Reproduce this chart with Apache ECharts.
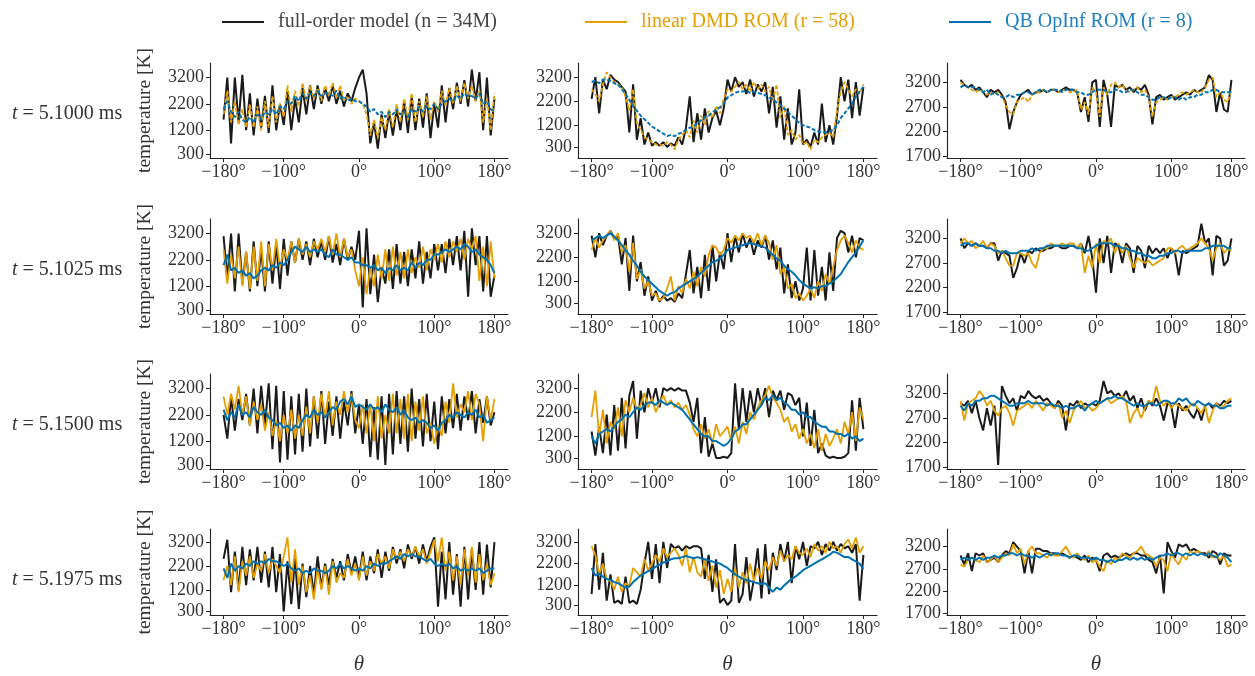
<!DOCTYPE html>
<html>
<head>
<meta charset="utf-8">
<script src="https://cdn.jsdelivr.net/npm/echarts@6/dist/echarts.min.js"></script>
<style>
  html, body { margin: 0; padding: 0; background: #ffffff; }
  #chart { width: 1255px; height: 676px; }
</style>
</head>
<body>
<div id="chart"></div>
<script>
// Sample angles (degrees) shared by every trace
const thetaDeg = [-180,-175,-170,-165,-160,-155,-150,-145,-140,-135,-130,-125,-120,-115,-110,-105,-100,-95,-90,-85,-80,-75,-70,-65,-60,-55,-50,-45,-40,-35,-30,-25,-20,-15,-10,-5,
  0,5,10,15,20,25,30,35,40,45,50,55,60,65,70,75,80,85,90,95,100,105,110,115,120,125,130,135,140,145,150,155,160,165,170,175,180];

// Time instants (ms), one per row
const timesMs = ['5.1000', '5.1025', '5.1500', '5.1975'];

// Tick values
const thetaTicks = [-180, -100, 0, 100, 180];
const tempTicksWide = [300, 1200, 2200, 3200];
const tempTicksNarrow = [1700, 2200, 2700, 3200];

// ---- t = 5.1000 ms ----
const fom_r1_c1 = [1600,3200,700,3200,1500,3300,1200,2600,1000,2400,1300,2500,1100,2900,1200,2200,1400,2700,1200,2400,1500,2800,1800,2900,2000,2900,2200,2800,2300,2900,2200,2700,2100,2600,2300,2800,
  3200,3500,2600,700,1500,500,1800,900,1900,1000,2000,1200,2300,1100,2500,1200,2400,1300,2600,900,2200,1300,2900,1500,2800,2000,3000,2200,3100,2100,3500,2300,3400,1200,3200,1000,2400];
const dmd_r1_c1 = [1800,2700,1500,2300,1400,2000,1300,2200,1300,2100,1200,2300,1300,2500,1500,2200,1700,2900,1900,2700,2100,3000,2300,2900,2400,2800,2300,2900,2500,3000,2400,2900,2300,2500,2200,2400,
  2300,2200,1800,1000,1600,900,1700,1200,2000,1300,2200,1500,2400,1600,2600,1500,2300,1700,2500,1600,2300,1900,2700,2100,2800,2200,2900,2300,3000,2400,2900,2300,2700,1500,2400,1200,2600];
const opinf_r1_c1 = [2000,2300,1900,1700,1900,1600,1500,1700,1500,1800,1600,1900,1800,2000,1800,2100,2000,2300,2200,2500,2300,2600,2400,2600,2500,2700,2500,2600,2600,2500,2700,2400,2500,2300,2400,2300,
  2300,2200,2100,1900,2000,1800,1900,1700,1900,1800,2000,1800,1900,1700,2000,1900,2100,1900,2100,2000,2200,2000,2200,2300,2400,2300,2500,2400,2600,2500,2500,2400,2600,2200,2300,2000,1900];

const fom_r1_c2 = [2300,3200,1700,3100,2700,3300,3100,3000,2800,2600,900,2900,600,1500,400,900,350,500,350,500,300,450,350,700,400,1100,2400,500,1700,600,1900,900,1500,1800,1200,1900,
  3100,2600,3200,2800,3000,2500,3100,2400,2900,2600,3000,1700,2800,1100,2400,600,1900,400,900,2700,400,600,300,900,400,2100,500,1200,400,1600,3200,2200,3100,1500,3000,1600,2800];
const dmd_r1_c2 = [2700,2500,2200,2900,3400,3200,3000,2900,2800,2400,1800,2700,1300,1000,700,600,500,400,400,350,500,400,200,600,800,1000,700,1400,900,1600,1200,1800,1500,2000,1700,2300,
  2700,2600,2800,3000,2700,2900,2600,3000,2700,2900,2600,2800,2200,2900,1500,2000,800,1000,600,800,400,500,200,600,500,700,800,900,700,1800,2600,3000,2700,2400,2700,2500,2900];
const opinf_r1_c2 = [3000,3050,2950,3100,3100,3050,2950,2900,2700,2500,2250,2000,1800,1600,1450,1300,1150,1050,950,850,750,800,750,850,900,1000,1100,1150,1300,1400,1550,1600,1750,1850,1950,2100,
  2350,2450,2550,2600,2600,2650,2550,2600,2550,2500,2450,2350,2300,2150,2050,1900,1750,1600,1450,1300,1200,1150,1100,1000,950,900,900,950,1000,1200,1500,1700,1900,2100,2400,2600,2800];

const fom_r1_c3 = [3250,3150,3100,3150,3050,3100,3000,2900,3050,3000,3050,2950,2800,2250,2600,2800,2950,3000,3050,2950,3000,3000,3050,3000,3050,3050,3000,3050,3100,3050,3050,3000,2600,2900,2400,3200,
  3250,2300,3250,2950,2300,3150,3100,3150,3050,3100,3000,3100,3050,3150,2950,2350,2900,2950,2850,2900,2950,2850,2900,2950,3000,2950,3050,3000,3050,3100,3350,3250,2600,3000,2650,2600,3250];
const dmd_r1_c3 = [3200,3150,3100,3050,3000,3050,3000,2950,3000,2950,3000,2900,2750,2600,2550,2800,2850,2900,2800,2950,3000,3000,3050,3000,3050,3050,3000,3050,3050,3000,3000,3050,2650,2800,2550,3100,
  3000,2500,3100,2950,3150,3200,3100,3150,3050,3000,3050,3100,3000,3050,2900,2500,2800,2850,2900,2850,2900,2900,2950,3000,2950,3000,3050,3000,3000,3100,3250,3300,2900,3000,2850,2800,3050];
const opinf_r1_c3 = [3100,3150,3100,3100,3100,3050,3000,3050,2950,3000,2950,2900,2900,2950,2900,2950,2950,3000,3000,2950,3000,3050,3050,3000,3050,3050,3050,3000,3050,3050,3050,3000,3000,2950,2950,3000,
  3050,3050,3050,3000,3000,3050,3050,3000,3000,3050,3050,3000,2950,2950,2900,2850,2850,2900,2900,2850,2900,2900,2850,2900,2850,2900,2900,2950,2950,3000,3000,3050,3050,3000,3000,3000,3000];

// ---- t = 5.1025 ms ----
const fom_r2_c1 = [3100,1500,3200,1000,3200,1300,2500,1000,2900,1200,2600,1000,2900,1300,2800,1100,3000,1600,2900,2100,3000,2200,2900,2000,3000,2300,2900,2200,3100,2100,2800,2000,3000,2200,2700,2200,
  3300,400,3400,900,2400,600,1900,1300,2600,1100,2800,1300,2500,1200,2600,1500,2900,1300,2500,1500,2800,1800,2800,1700,3000,2000,3100,1800,3300,800,3400,2000,3100,1000,3100,800,1600];
const dmd_r2_c1 = [2600,1300,2400,1500,2700,1200,2500,1100,2700,1400,2900,1200,2800,1800,3000,1900,2600,2200,2900,2100,3000,2400,2800,2300,2900,2600,3000,2500,3100,2400,3200,2300,3000,2300,2600,1800,
  1200,2300,900,1900,1200,2400,1500,2600,1400,2700,1600,2500,1500,2600,1700,2300,1900,2700,1800,2600,2200,2800,2100,2900,2300,2900,2500,3000,2200,3000,2600,3100,1400,2700,1200,2900,1500];
const opinf_r2_c1 = [2000,2400,1800,1900,1700,1800,1600,1700,1500,1600,1800,1900,1800,2000,1900,2100,2000,2200,2500,2700,2600,2500,2700,2500,2600,2500,2600,2400,2300,2600,2400,2400,2300,2200,2300,2100,
  2100,2000,2000,1900,2000,1800,1900,1700,1900,1800,2000,1800,1900,1800,2100,1900,2100,2000,2200,2200,2400,2400,2500,2600,2500,2600,2700,2600,2800,2700,2500,2600,2400,2300,2200,2000,1700];

const fom_r2_c2 = [3100,2200,3200,2700,3100,3300,3000,3100,1900,3000,800,3100,1200,2000,600,1400,400,800,350,600,400,500,350,700,500,1500,2500,700,1800,500,2300,800,2700,1200,2400,1700,
  3200,2000,3100,2400,3200,2600,3000,2300,2900,2600,3100,2100,2900,1700,2600,700,1900,500,1200,400,900,2600,400,2500,600,1800,400,2400,800,3000,3300,3200,2400,3100,2200,3000,2900];
const dmd_r2_c2 = [2500,3000,2600,2900,3100,3300,2900,3200,2400,2700,1600,2800,1300,1700,900,1200,600,700,400,500,900,1400,400,1000,700,1300,900,1600,1000,1800,1400,2300,2700,2600,2300,2500,
  3000,2800,3100,2900,3200,3000,3100,2800,3200,2700,3100,2800,2100,2700,1500,1800,900,1100,500,700,400,600,900,500,1200,800,1500,1100,1800,2500,2900,3100,2800,2400,2900,2600,2500];
const opinf_r2_c2 = [2900,3000,3100,3000,3100,3200,3050,2900,2700,2500,2300,2050,1850,1600,1400,1250,1100,950,800,700,600,700,750,900,1000,1100,1200,1300,1400,1550,1700,1850,2000,2050,2150,2300,
  2500,2550,2600,2650,2700,2750,2800,2750,2700,2650,2600,2450,2300,2150,2050,1850,1700,1600,1450,1250,1100,1000,900,950,900,1000,1000,1100,1200,1350,1500,1750,2000,2200,2400,2650,2900];

const fom_r2_c3 = [3200,3000,3100,3050,3100,3050,3050,3000,3100,3100,2750,2950,2900,2850,2400,2600,2900,2700,2950,2900,3000,2950,2950,3000,3000,3050,3050,3000,3000,3050,3050,3000,3100,2900,3250,2800,
  2100,3200,2700,3250,2500,3100,3050,2700,3100,3000,2500,3050,2950,2600,3050,2900,3000,2900,3000,2800,3000,2900,2450,2950,2900,2950,3000,3050,3500,3100,3200,2450,3250,3200,2650,2750,3200];
const dmd_r2_c3 = [3100,3200,3100,3150,3000,3050,3150,3000,3100,3050,2900,2950,2800,2650,2650,2900,2900,2850,2900,2700,2600,2900,3000,3000,3100,3050,3050,3100,3050,3100,3100,3000,3100,2500,2850,2600,
  3100,2700,3150,3100,3200,2900,3100,2900,3050,2800,2600,2800,2750,2700,2750,2650,2700,2750,2800,3000,3000,2900,3000,3050,2950,3000,3050,3100,3200,3100,3000,2750,3000,3100,2900,3000,2950];
const opinf_r2_c3 = [3050,3100,3100,3050,3100,3050,3050,3000,3000,2950,2950,2900,2950,2900,2900,2900,2950,2950,2950,3000,2950,3000,3000,3050,3050,3050,3050,3050,3050,3050,3050,3000,3000,2950,2950,3000,
  3050,3100,3100,3100,3100,3050,3050,3000,3000,2950,2950,2900,2900,2850,2850,2800,2800,2850,2850,2900,2900,2950,2950,2900,2950,2950,2950,2950,2950,3000,3000,3050,3050,3050,3050,3000,3000];

// ---- t = 5.1500 ms ----
const fom_r3_c1 = [2200,1300,2900,1600,2800,2000,3000,1800,3200,1500,3300,1800,3400,900,3300,400,3100,500,2900,700,3000,800,3200,1000,2900,1300,3100,1100,2700,1400,2900,1300,2700,1800,3100,1500,
  2600,1100,2800,600,2500,500,2900,300,3000,700,3100,1100,2900,800,3200,1300,2800,1000,3000,1200,2700,900,2900,1500,2800,1700,3000,1600,2900,2000,3100,1500,2800,1900,2900,1800,2300];
const dmd_r3_c1 = [2900,2200,3000,2400,3300,2200,2900,1800,2700,2000,2600,1600,2300,1400,2000,1200,2200,1500,2400,1300,2200,1400,2500,1500,2900,1900,3000,2100,3100,1800,2700,2200,3100,2300,3000,2000,
  1700,2600,1500,2600,1200,2900,1300,2200,1500,3000,1500,2800,1300,3000,1200,2700,1600,2900,1500,1900,1100,1800,1400,2700,1900,3400,2100,2600,2300,3100,2000,3000,2600,1200,2900,2000,2800];
const opinf_r3_c1 = [2400,2000,2300,2100,2600,2200,2300,2100,2500,2300,2200,2400,2100,2000,1800,1900,1700,1800,1600,1800,1700,2000,2200,2100,2400,2200,2300,2100,2300,2500,2400,2700,2800,2600,2900,2500,
  2600,2500,2400,2600,2400,2500,2300,2600,2400,2300,2500,2200,2400,2100,2000,2100,1900,2000,1900,1700,1800,1600,1900,2000,2200,2100,2300,2200,2100,2300,2200,2400,2100,2200,1900,2000,2100];

const fom_r3_c2 = [1400,400,1600,500,2100,400,2500,600,2800,700,2900,3500,1100,3100,2200,3200,2600,3200,2400,3200,3100,3200,3100,3200,3100,3100,2600,1800,2800,500,2000,350,900,300,300,350,
  300,500,3400,1500,3200,1800,3100,2200,3200,2500,3200,2000,3100,2700,3100,2300,3000,2900,2500,2800,1200,2600,800,2300,500,900,400,300,350,300,300,350,500,2700,600,2800,1500];
const dmd_r3_c2 = [2000,3100,1200,2300,900,1800,1500,2400,1200,2700,2200,2800,2300,2500,3000,2400,2800,2200,2600,2900,2500,2700,2400,2600,2300,2500,2100,1500,1200,1700,1100,1500,900,1700,1200,1400,
  1600,1000,1600,900,1800,1300,2200,1900,2400,2700,2900,3300,2800,2600,2300,1800,2000,1400,1700,1100,1500,900,1300,700,1500,600,1300,800,1100,1500,900,1800,1300,2200,1000,2400,1900];
const opinf_r3_c2 = [1200,900,1300,1400,1500,1400,1600,1800,1900,2100,2000,2200,2400,2300,2500,2600,2600,2500,2700,2600,2500,2600,2500,2400,2300,2100,1900,1700,1500,1300,1200,1200,1000,1000,900,800,
  900,1100,1400,1500,1700,1700,1900,2100,2300,2500,2800,2700,2900,2700,2800,2600,2500,2300,2300,2100,2200,2000,2000,1800,1700,1600,1600,1400,1400,1300,1300,1200,1300,1100,1200,1000,1100];

const fom_r3_c3 = [3000,2950,3050,2800,3050,2700,2450,2900,2550,2950,1750,3350,3150,3000,3100,2850,3150,3100,3250,3150,3100,3150,3050,3100,3000,2900,3050,2950,2450,3000,2950,3050,2900,3000,2950,3000,
  2950,3050,3450,3200,3250,3150,3200,3100,3250,3050,3150,2900,3100,2850,3050,2950,3100,2950,2650,3000,2950,2500,3000,2850,2950,2800,2700,2900,2650,2950,3000,2900,3000,2950,3050,3000,3050];
const dmd_r3_c3 = [3050,2650,3000,3050,3100,3250,3150,2950,3050,2850,2750,2900,2950,2800,2550,2850,2900,2950,3000,2900,3050,2950,2850,3000,2950,2900,3000,2700,2850,2600,2850,2950,3050,2900,2950,2850,
  2900,3000,3050,3100,3000,3050,3100,3150,3050,2600,2800,2900,2700,2900,3050,3000,3350,3050,2950,3050,2900,3000,2950,2900,2850,2950,3000,2900,2800,2950,2600,2850,3000,2900,2950,3050,3100];
const opinf_r3_c3 = [2950,2850,3000,2950,3050,3050,3100,3100,3150,3150,3100,3050,3000,2950,2950,3000,3000,3000,3050,3000,3000,3000,3000,2950,3000,2950,2950,2900,2950,2900,2900,2950,2950,2850,2950,3000,
  3050,3000,3050,3100,3100,3150,3100,3100,3050,3000,2950,3000,2950,2950,3000,3000,2950,3000,3050,3050,3000,3000,3100,3050,3100,3000,2950,3050,3000,2950,3000,2950,2950,2900,2900,2950,2950];

// ---- t = 5.1975 ms ----
const fom_r4_c1 = [2500,3300,1100,2800,1200,3000,1400,2900,1600,3000,1500,2800,1300,3000,1100,2700,300,2400,600,2500,400,2300,900,2200,1000,2600,1300,2300,1400,2500,1700,2400,1600,2700,1900,2600,
  1700,2800,1600,2600,1900,2900,1700,2800,2000,3000,2300,2900,2100,3100,2500,3000,2300,3100,2400,3000,3400,500,2800,800,3200,1000,2700,500,3000,800,2900,1200,3200,1000,3100,1300,3200];
const dmd_r4_c1 = [1600,2200,1400,2600,1100,2400,1800,2600,1700,2300,2000,2700,1900,2500,2200,1900,2600,3400,1500,2900,1400,2200,1100,1800,800,2100,1200,2200,1000,2400,1500,1900,1700,2500,1800,2300,
  1600,2600,1800,2400,2000,2700,2300,2600,2100,2900,2500,2800,2400,2900,2600,3000,2600,2900,2300,2800,3300,2400,3400,2000,2800,1600,2600,1400,2900,1800,3000,1500,2700,1600,2300,1400,1900];
const opinf_r4_c1 = [2100,1700,2300,2000,2200,2100,2300,2200,2400,2300,2400,2300,2500,2400,2400,2300,2200,2300,2100,2000,2100,1900,2000,1900,2100,2000,2000,1900,2000,2200,2100,2300,2100,2200,2100,2000,
  2100,2000,2200,2100,2300,2200,2300,2300,2400,2500,2600,2500,2700,2600,2700,2600,2600,2500,2400,2500,2300,2200,2300,2200,2300,2100,2200,2000,2100,2000,2100,2000,2100,1900,2000,2100,2100];

const fom_r4_c2 = [800,3100,1000,2700,500,1700,400,500,350,1600,400,500,350,1000,2200,3200,1500,3100,1300,3200,2000,3100,2900,3000,2800,3000,2900,3000,3000,2900,1500,2600,900,2400,400,600,
  300,500,3100,400,800,2500,500,1500,2900,600,3100,800,2700,1900,3100,2300,3200,1300,3000,2400,3200,2100,3000,2900,3200,2600,3100,2800,3200,2800,3100,2900,3000,2700,3100,500,2600];
const dmd_r4_c2 = [3000,2600,1700,2200,1500,1400,1000,1600,900,1300,1200,2000,1800,1600,2400,1900,2200,2600,2300,2900,2500,2700,2900,2600,2100,2900,1800,2500,1800,1600,2400,1400,2100,1100,1900,800,
  1500,900,2000,1100,1800,1300,2200,1400,2000,1500,2300,1900,2500,2100,2800,2300,2600,2400,3000,2700,2600,2900,2500,3100,2800,3000,2700,3200,2900,3000,2700,3100,3300,2900,3400,2700,3000];
const opinf_r4_c2 = [2000,1650,1750,1600,1500,1450,1350,1300,1200,1100,1150,1350,1500,1650,1750,1850,1950,2050,2150,2250,2300,2400,2450,2450,2500,2550,2500,2450,2500,2450,2400,2350,2300,2250,2200,2100,
  2000,1850,1700,1600,1500,1450,1400,1350,1300,1250,1300,1100,900,1100,1000,1200,1350,1500,1600,1750,1900,2000,2100,2200,2300,2400,2500,2600,2750,2700,2600,2500,2500,2400,2300,2200,1950];

const fom_r4_c3 = [3000,2800,3050,2650,3050,3000,3050,2850,2900,2950,2850,3000,3100,3050,3300,3200,3100,2600,3100,2600,3150,3150,3100,3100,3050,3050,3000,3050,3000,2950,3000,2950,2900,3000,2850,2950,
  2900,2650,3000,3050,2950,3000,2950,3000,3050,3000,3050,3050,3000,3000,2900,2850,2600,3000,2150,3300,3100,2950,3250,3200,3250,3100,3150,3100,3050,3050,2950,3100,3050,2800,3050,3000,3000];
const dmd_r4_c3 = [2800,2750,2900,2950,2900,2850,3000,2850,2900,3000,2850,2950,3050,3000,3250,3050,3150,2800,3100,3200,3050,3050,3000,2950,3050,3000,3000,3100,3200,3050,2950,3050,2950,2900,3000,2850,
  2900,2750,2650,2900,2800,2950,2900,3050,3000,2950,3050,3100,3200,3050,3000,2950,2750,2950,2900,2650,3050,2900,2800,3000,2900,3100,3050,3100,3050,3000,3100,2950,3000,2900,3000,2750,2800];
const opinf_r4_c3 = [2900,2950,2900,2950,2900,2950,2900,2950,2950,3000,2950,3000,3000,3050,3050,3000,3050,3000,3000,2950,3000,2950,3000,3050,3000,3050,3050,3000,3000,2950,3000,3000,2950,2950,2950,2900,
  2950,2900,2900,2850,2900,2850,2900,2900,2950,2900,2950,2900,2950,2900,2950,2900,2950,3000,3000,3050,3000,3050,3050,3000,3050,3000,3050,3000,3050,3000,3050,3000,2950,3050,3000,2950,2850];

// Traces arranged [row][column]
const fomRows = [
  [fom_r1_c1, fom_r1_c2, fom_r1_c3],
  [fom_r2_c1, fom_r2_c2, fom_r2_c3],
  [fom_r3_c1, fom_r3_c2, fom_r3_c3],
  [fom_r4_c1, fom_r4_c2, fom_r4_c3]
];
const dmdRows = [
  [dmd_r1_c1, dmd_r1_c2, dmd_r1_c3],
  [dmd_r2_c1, dmd_r2_c2, dmd_r2_c3],
  [dmd_r3_c1, dmd_r3_c2, dmd_r3_c3],
  [dmd_r4_c1, dmd_r4_c2, dmd_r4_c3]
];
const opinfRows = [
  [opinf_r1_c1, opinf_r1_c2, opinf_r1_c3],
  [opinf_r2_c1, opinf_r2_c2, opinf_r2_c3],
  [opinf_r3_c1, opinf_r3_c2, opinf_r3_c3],
  [opinf_r4_c1, opinf_r4_c2, opinf_r4_c3]
];

// ---- layout & style ----
const FONT = '"Liberation Serif", "DejaVu Serif", serif';
const TEXT = '#333333';
const AXIS = '#222222';
const C_FOM = '#1a1a1a';
const C_DMD = '#E69F00';
const C_OPINF = '#0072B2';
const NAME_FOM = 'full-order model (n = 34M)';
const NAME_DMD = 'linear DMD ROM (r = 58)';
const NAME_OPINF = 'QB OpInf ROM (r = 8)';

const gridTops = [63, 219, 374, 529];
const gridHeight = 95;
const colLefts = [210, 578, 947];
const colWidths = [298, 299, 298];
const yRanges = [[147, 3750], [-160, 3790], [1668, 3593]];
const yTickSets = [tempTicksWide, tempTicksWide, tempTicksNarrow];

const fmtTheta = v => (v < 0 ? '\u2212' + Math.abs(v) : String(v)) + '\u00B0';
const fmtTemp = v => String(Math.round(v));
const pairs = arr => thetaDeg.map((t, i) => [t, arr[i]]);

const grid = [], xAxis = [], yAxis = [], series = [], title = [];

for (let r = 0; r < 4; r++) {
  title.push({
    text: '{i|t} = ' + timesMs[r] + ' ms',
    left: 7,
    top: gridTops[r] + 36,
    textStyle: {
      fontFamily: FONT, fontSize: 20, fontWeight: 'normal', color: TEXT,
      rich: { i: { fontFamily: FONT, fontSize: 20, fontStyle: 'italic', color: TEXT } }
    }
  });
  for (let c = 0; c < 3; c++) {
    const k = r * 3 + c;
    grid.push({ left: colLefts[c], top: gridTops[r], width: colWidths[c], height: gridHeight, containLabel: false });
    xAxis.push({
      gridIndex: k, type: 'value', min: -198, max: 198,
      axisLine: { show: true, onZero: false, lineStyle: { color: AXIS, width: 1.1 } },
      axisTick: { show: true, customValues: thetaTicks, length: 4, lineStyle: { color: AXIS, width: 1 } },
      axisLabel: { customValues: thetaTicks, formatter: fmtTheta, color: TEXT, fontFamily: FONT, fontSize: 18, margin: 5 },
      splitLine: { show: false },
      name: r === 3 ? '\u03B8' : '',
      nameLocation: 'middle', nameGap: 39,
      nameTextStyle: { fontFamily: FONT, fontSize: 21, fontStyle: 'italic', color: TEXT }
    });
    yAxis.push({
      gridIndex: k, type: 'value', min: yRanges[c][0], max: yRanges[c][1],
      axisLine: { show: true, onZero: false, lineStyle: { color: AXIS, width: 1.1 } },
      axisTick: { show: true, customValues: yTickSets[c], length: 4, lineStyle: { color: AXIS, width: 1 } },
      axisLabel: { customValues: yTickSets[c], formatter: fmtTemp, color: TEXT, fontFamily: FONT, fontSize: 18, margin: 6 },
      splitLine: { show: false },
      name: c === 0 ? 'temperature [K]' : '',
      nameLocation: 'middle', nameGap: 55, nameRotate: 90,
      nameTextStyle: { fontFamily: FONT, fontSize: 19.5, color: TEXT }
    });
    // Row 1 reduced models are drawn dashed
    const romType = r === 0 ? [4, 2] : 'solid';
    series.push({
      name: NAME_FOM, type: 'line', xAxisIndex: k, yAxisIndex: k,
      data: pairs(fomRows[r][c]), symbol: 'none', showSymbol: false,
      lineStyle: { color: C_FOM, width: 2 }, itemStyle: { color: C_FOM }, z: 2, animation: false
    });
    series.push({
      name: NAME_DMD, type: 'line', xAxisIndex: k, yAxisIndex: k,
      data: pairs(dmdRows[r][c]), symbol: 'none', showSymbol: false,
      lineStyle: { color: C_DMD, width: 1.8, type: romType }, itemStyle: { color: C_DMD }, z: 3, animation: false
    });
    series.push({
      name: NAME_OPINF, type: 'line', xAxisIndex: k, yAxisIndex: k,
      data: pairs(opinfRows[r][c]), symbol: 'none', showSymbol: false,
      lineStyle: { color: C_OPINF, width: 2, type: romType }, itemStyle: { color: C_OPINF }, z: 4, animation: false
    });
  }
}

const legendBase = {
  top: 7, icon: 'rect', itemWidth: 42, itemHeight: 2, selectedMode: false,
  textStyle: { fontFamily: FONT, fontSize: 20, padding: [0, 0, 0, 9] }
};
const legend = [
  Object.assign({}, legendBase, { left: 217, data: [{ name: NAME_FOM, itemStyle: { color: C_FOM }, textStyle: { color: '#444444' } }] }),
  Object.assign({}, legendBase, { left: 580, data: [{ name: NAME_DMD, itemStyle: { color: C_DMD }, textStyle: { color: C_DMD } }] }),
  Object.assign({}, legendBase, { left: 944, data: [{ name: NAME_OPINF, itemStyle: { color: C_OPINF }, textStyle: { color: '#1f80bf' } }] })
];

const chart = echarts.init(document.getElementById('chart'), null, { renderer: 'canvas' });
chart.setOption({
  backgroundColor: '#ffffff',
  animation: false,
  title, legend, grid, xAxis, yAxis, series
});
</script>
</body>
</html>
